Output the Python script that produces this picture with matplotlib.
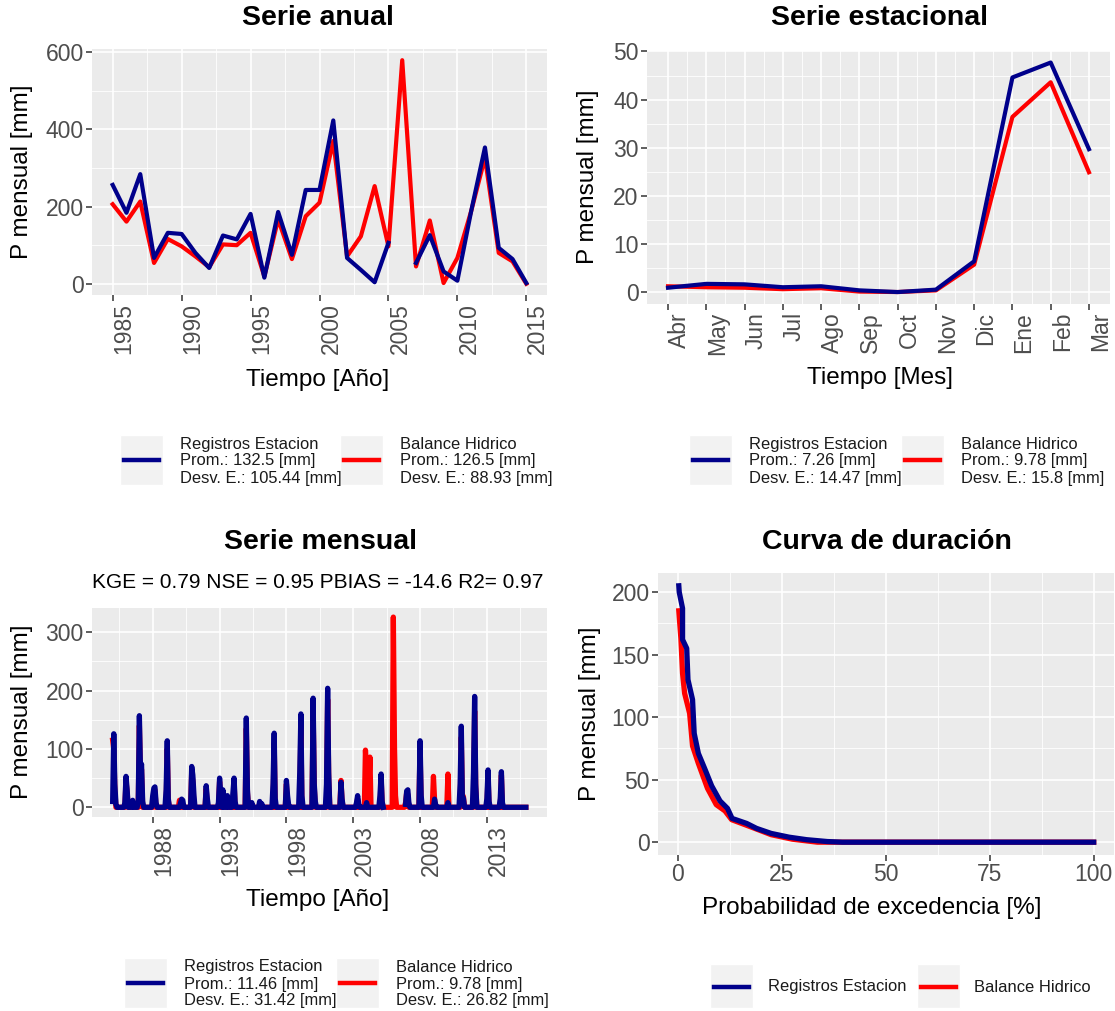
import numpy as np
import pandas as pd
import matplotlib
matplotlib.use("Agg")
import matplotlib.pyplot as plt
import matplotlib.dates as mdates
from matplotlib.lines import Line2D
from matplotlib.patches import Rectangle

plt.rcParams['font.family'] = ['Liberation Sans', 'DejaVu Sans']

BLUE = '#00008B'
RED = '#FF0000'

# ---- annual totals ----
years = list(range(1985, 2016))
anual_est = [256, 184, 284, 67, 132, 129, 80, 41, 125, 115, 181, 16, 186, 75, 243, 243,
             423, 67, 36, 4, 106, np.nan, 54, 126, 32, 8, 188, 353, 93, 64, 2]
anual_bal = [206, 161, 213, 54, 116, 97, 71, 43, 102, 100, 132, 19, 167, 64, 175, 210,
             370, 71, 123, 253, 97, 579, 45, 164, 2, 67, 188, 327, 80, 58, 0]

# ---- mean monthly (hydrological year Apr-Mar) ----
meses = ['Abr', 'May', 'Jun', 'Jul', 'Ago', 'Sep', 'Oct', 'Nov', 'Dic', 'Ene', 'Feb', 'Mar']
estac_est = [0.9, 1.7, 1.6, 1.0, 1.2, 0.35, 0.0, 0.5, 6.4, 44.6, 47.7, 29.7]
estac_bal = [1.2, 1.0, 0.9, 0.6, 0.8, 0.1, 0.0, 0.35, 5.7, 36.4, 43.6, 24.9]

# ---- monthly series: months with rain (all other months are 0) ----
est_mes = ['1985-01', '1985-02', '1985-03', '1985-04', '1985-12', '1986-01', '1986-02', '1986-07',
           '1986-12', '1987-01', '1987-02', '1987-03', '1987-04', '1988-01', '1988-02', '1988-03',
           '1988-04', '1989-01', '1989-02', '1989-03', '1990-02', '1990-03', '1990-04', '1990-12',
           '1991-01', '1991-02', '1992-01', '1992-02', '1992-12', '1993-01', '1993-02', '1993-04',
           '1993-08', '1994-01', '1994-02', '1994-03', '1995-01', '1995-02', '1995-06', '1996-01',
           '1996-03', '1997-01', '1997-02', '1997-03', '1998-01', '1998-02', '1998-03', '1999-01',
           '1999-02', '1999-03', '2000-01', '2000-02', '2000-03', '2001-01', '2001-02', '2001-03',
           '2002-02', '2002-03', '2003-04', '2003-05', '2003-06', '2004-01', '2005-01', '2005-02',
           '2005-03', '2006-12', '2007-01', '2007-02', '2007-03', '2008-01', '2008-02', '2009-02',
           '2009-03', '2010-02', '2011-01', '2011-02', '2011-03', '2011-04', '2012-01', '2012-02',
           '2012-03', '2013-01', '2013-02', '2013-03', '2014-01', '2014-02', '2014-03']
est_val = [10, 126, 40, 5, 8, 53, 30, 12,
           10, 157, 60, 74, 10, 20, 33, 35,
           8, 30, 114, 15, 8, 14, 12, 70,
           55, 20, 37, 15, 8, 50, 25, 30,
           20, 25, 50, 10, 153, 30, 8, 10,
           6, 40, 127, 15, 46, 20, 5, 60,
           160, 20, 187, 40, 10, 40, 204, 60,
           43, 15, 8, 20, 5, 8, 20, 57,
           10, 5, 28, 30, 8, 114, 20, 14,
           5, 8, 40, 139, 20, 15, 60, 190,
           40, 15, 64, 10, 15, 61, 8]
est_sin_dato = ('2005-05', '2006-11')

bal_mes = ['1985-01', '1985-02', '1985-03', '1986-01', '1986-02', '1987-01', '1987-02', '1987-03',
           '1988-02', '1988-03', '1989-02', '1989-03', '1990-01', '1990-12', '1991-01', '1992-01',
           '1993-01', '1993-04', '1994-02', '1995-01', '1995-02', '1997-02', '1998-01', '1999-02',
           '2000-01', '2000-02', '2001-02', '2001-03', '2002-02', '2002-03', '2003-05', '2003-12',
           '2004-01', '2004-03', '2004-04', '2005-02', '2005-03', '2006-01', '2006-02', '2006-03',
           '2006-12', '2007-01', '2007-02', '2008-01', '2009-01', '2009-02', '2010-02', '2011-02',
           '2011-03', '2011-04', '2012-02', '2012-03', '2013-02', '2014-02']
bal_val = [115, 100, 30, 45, 25, 140, 50, 65,
           28, 30, 100, 12, 12, 60, 45, 32,
           44, 25, 44, 135, 25, 110, 40, 140,
           165, 35, 185, 50, 46, 12, 15, 98,
           60, 30, 86, 50, 8, 326, 104, 20,
           8, 25, 22, 100, 53, 12, 57, 120,
           22, 18, 165, 35, 55, 55]

# ---- flow duration curves ----
dur_prob_est = [0.3, 0.4, 1.2, 1.2, 2.2, 2.5, 3.6, 4.0, 5.0, 6.5, 8.2, 10.2, 12.0, 13.1,
                16.6, 19.0, 22.5, 26.8, 31.0, 36.0, 39.6, 100]
dur_val_est = [205, 200, 187, 162, 155, 130, 114, 87, 71, 59, 45, 33, 27, 19,
               15, 11, 7, 4, 2, 0.5, 0, 0]
dur_prob_bal = [0.3, 0.8, 1.2, 1.7, 2.9, 3.6, 5.0, 7.2, 9.3, 11.4, 13.0, 17.4, 22.5, 27.6, 33.6, 100]
dur_val_bal = [185, 163, 135, 119, 103, 77, 63, 43, 30, 25, 18, 12.5, 6, 2.4, 0, 0]

leyenda_anual = [('Registros Estacion', '132.5', '105.44'), ('Balance Hidrico', '126.5', '88.93')]
leyenda_estac = [('Registros Estacion', '7.26', '14.47'), ('Balance Hidrico', '9.78', '15.8')]
leyenda_mens = [('Registros Estacion', '11.46', '31.42'), ('Balance Hidrico', '9.78', '26.82')]
metricas = 'KGE = 0.79 NSE = 0.95 PBIAS = -14.6 R2= 0.97'

# build full monthly series
fechas = pd.date_range('1985-01-01', '2015-12-01', freq='MS')
mens_est = pd.Series(0.0, index=fechas)
mens_est[pd.to_datetime(est_mes)] = est_val
mens_est[est_sin_dato[0]:est_sin_dato[1]] = np.nan
mens_bal = pd.Series(0.0, index=fechas)
mens_bal[pd.to_datetime(bal_mes)] = bal_val

W, H = 1115, 1011
fig = plt.figure(figsize=(W / 100, H / 100), dpi=100)
LW = 3.0      # annual / seasonal
LW_M = 3.8    # monthly and duration curves look heavier


def axes_px(left, top, right, bottom):
    return fig.add_axes([left / W, 1 - bottom / H, (right - left) / W, (bottom - top) / H])


def ftext(x, y, s, **kw):
    return fig.text(x / W, 1 - y / H, s, **kw)


def gg(ax):
    ax.set_facecolor('#EBEBEB')
    for s in ax.spines.values():
        s.set_visible(False)
    ax.grid(which='major', color='white', lw=1.2)
    ax.grid(which='minor', color='white', lw=0.6)
    ax.set_axisbelow(True)
    ax.tick_params(which='major', length=4, width=1.1, color='#333333',
                   labelcolor='#4D4D4D', labelsize=16.5, pad=2)
    ax.tick_params(which='minor', length=0)


def legend_block(keys_x, texts_x, y_lines, entries):
    # grey key boxes with a line sample, three text lines per entry
    for kx, tx, (name, prom, desv), col in zip(keys_x, texts_x, entries, [BLUE, RED]):
        top, bot = y_lines[0] - 9, y_lines[2] + 7
        fig.patches.append(Rectangle((kx / W, 1 - bot / H), 43 / W, (bot - top) / H,
                                     transform=fig.transFigure, facecolor='#F2F2F2',
                                     edgecolor='white', lw=1))
        yc = 1 - (top + bot) / 2 / H
        fig.lines.append(Line2D([(kx + 4) / W, (kx + 39) / W], [yc, yc],
                                transform=fig.transFigure, color=col, lw=3.2))
        for y, s in zip(y_lines, [name, 'Prom.: %s [mm]' % prom, 'Desv. E.: %s [mm]' % desv]):
            ftext(tx, y, s, fontsize=11.9, va='center', ha='left', color='#1A1A1A')


# ---------- Serie anual ----------
ax1 = axes_px(92, 49, 547, 295)
gg(ax1)
ax1.plot(years, anual_bal, color=RED, lw=LW)
ax1.plot(years, anual_est, color=BLUE, lw=LW)
ax1.set_xlim(1983.5, 2016.5)
ax1.set_ylim(-29, 608)
ax1.set_xticks(range(1985, 2016, 5))
ax1.set_xticks(np.arange(1987.5, 2015, 5), minor=True)
ax1.set_yticks([0, 200, 400, 600])
ax1.set_yticks([100, 300, 500], minor=True)
ax1.set_xticklabels([str(y) for y in range(1985, 2016, 5)], rotation=90, ha='left', va='top')
ftext(318, 18, 'Serie anual', fontsize=20.5, fontweight='bold', ha='center', va='center')
ftext(318, 380, 'Tiempo [Año]', fontsize=17.5, ha='center', va='center')
ftext(22, 172, 'P mensual [mm]', fontsize=17.5, ha='center', va='center', rotation=90)
legend_block([120, 340], [180, 400], [444, 461, 478], leyenda_anual)

# ---------- Serie estacional ----------
ax2 = axes_px(647, 51, 1110, 303.6)
gg(ax2)
xm = np.arange(1, 13)
ax2.plot(xm, estac_bal, color=RED, lw=LW)
ax2.plot(xm, estac_est, color=BLUE, lw=LW)
ax2.set_xlim(0.45, 12.55)
ax2.set_ylim(-2.4, 50.1)
ax2.set_xticks(xm)
ax2.set_xticks(np.arange(1.5, 12, 1), minor=True)
ax2.set_yticks(range(0, 51, 10))
ax2.set_yticks(range(5, 50, 10), minor=True)
ax2.set_xticklabels(meses, rotation=90, ha='left', va='top')
ftext(880, 18, 'Serie estacional', fontsize=20.5, fontweight='bold', ha='center', va='center')
ftext(880, 378, 'Tiempo [Mes]', fontsize=17.5, ha='center', va='center')
ftext(588, 177, 'P mensual [mm]', fontsize=17.5, ha='center', va='center', rotation=90)
legend_block([689, 901], [749, 961], [444, 461, 478], leyenda_estac)

# ---------- Serie mensual ----------
ax3 = axes_px(92, 607.6, 546.5, 816.8)
gg(ax3)
ax3.plot(mens_bal.index, mens_bal.values, color=RED, lw=LW_M)
ax3.plot(mens_est.index, mens_est.values, color=BLUE, lw=LW_M)
t0, t1 = mdates.date2num(fechas[0]), mdates.date2num(fechas[-1])
pad = 0.05 * (t1 - t0)
ax3.set_xlim(t0 - pad, t1 + pad)
ax3.set_ylim(-16.3, 342.3)
major = [pd.Timestamp('%d-01-01' % y) for y in range(1988, 2014, 5)]
ax3.set_xticks(major)
mids = [mdates.date2num(pd.Timestamp('%d-01-01' % y)) + 0.5 * 5 * 365.25 for y in range(1983, 2014, 5)]
ax3.set_xticks(mids, minor=True)
ax3.set_xticklabels([str(y) for y in range(1988, 2014, 5)], rotation=90, ha='left', va='top')
ax3.set_yticks([0, 100, 200, 300])
ax3.set_yticks([50, 150, 250], minor=True)
ftext(320, 542, 'Serie mensual', fontsize=20.5, fontweight='bold', ha='center', va='center')
ftext(318, 582, metricas, fontsize=15, ha='center', va='center')
ftext(318, 900, 'Tiempo [Año]', fontsize=17.5, ha='center', va='center')
ftext(22, 712, 'P mensual [mm]', fontsize=17.5, ha='center', va='center', rotation=90)
legend_block([124, 336], [184, 396], [967, 984, 1001], leyenda_mens)

# ---------- Curva de duracion ----------
ax4 = axes_px(658, 573, 1114.4, 855)
gg(ax4)
ax4.plot(dur_prob_bal, dur_val_bal, color=RED, lw=LW_M)
ax4.plot(dur_prob_est, dur_val_est, color=BLUE, lw=LW_M)
ax4.set_xlim(-4.7, 104.98)
ax4.set_ylim(-10.25, 215.25)
ax4.set_xticks([0, 25, 50, 75, 100])
ax4.set_xticks([12.5, 37.5, 62.5, 87.5], minor=True)
ax4.set_yticks([0, 50, 100, 150, 200])
ax4.set_yticks([25, 75, 125, 175], minor=True)
ftext(887, 542, 'Curva de duración', fontsize=20.5, fontweight='bold', ha='center', va='center')
ftext(872, 908, 'Probabilidad de excedencia [%]', fontsize=17.5, ha='center', va='center')
ftext(590, 714, 'P mensual [mm]', fontsize=17.5, ha='center', va='center', rotation=90)
for kx, tx, name, col in [(710, 768, 'Registros Estacion', BLUE), (917, 974, 'Balance Hidrico', RED)]:
    fig.patches.append(Rectangle((kx / W, 1 - 1008 / H), 43 / W, 44 / H, transform=fig.transFigure,
                                 facecolor='#F2F2F2', edgecolor='white', lw=1))
    fig.lines.append(Line2D([(kx + 4) / W, (kx + 39) / W], [1 - 987 / H] * 2,
                            transform=fig.transFigure, color=col, lw=3.2))
    ftext(tx, 987, name, fontsize=11.9, va='center', ha='left', color='#1A1A1A')

fig.savefig('out.png', dpi=100, facecolor='white')
